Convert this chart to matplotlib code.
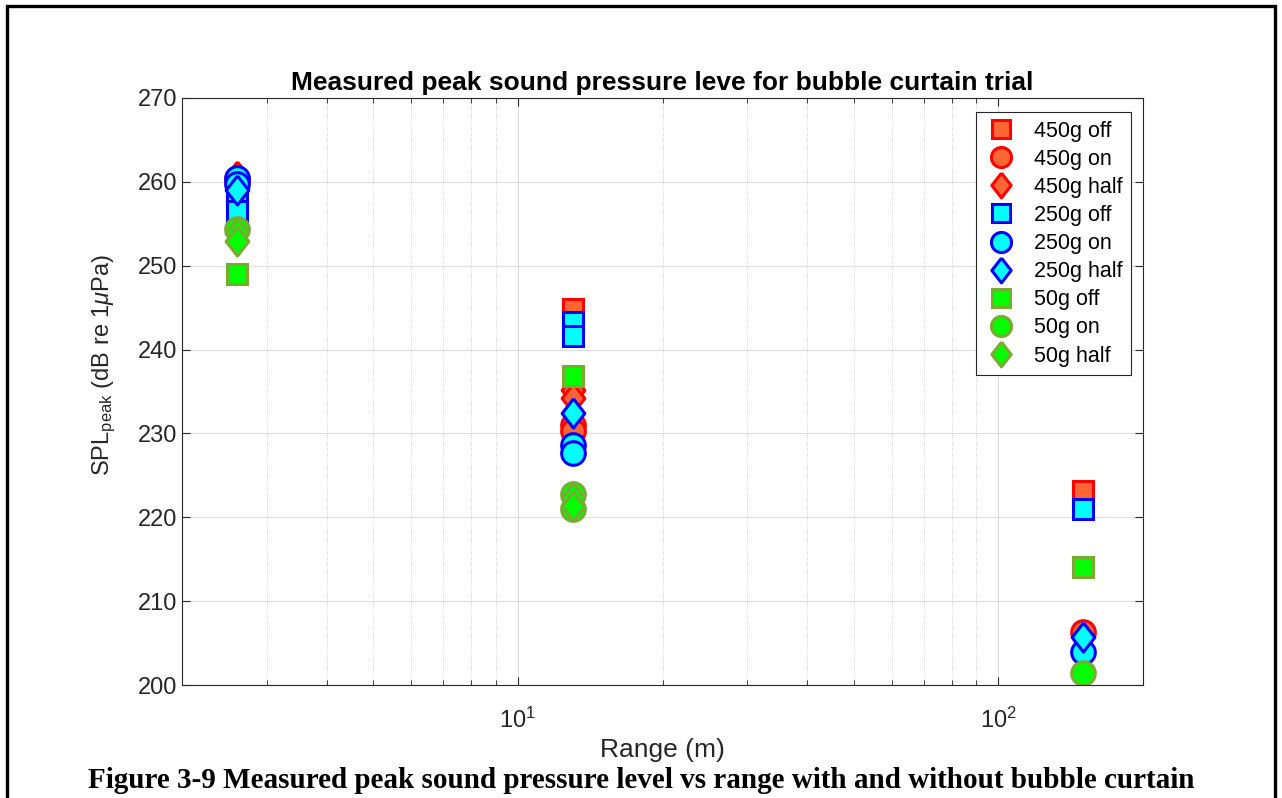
import matplotlib
matplotlib.use("Agg")
import matplotlib.pyplot as plt
from matplotlib.patches import Rectangle
from matplotlib.ticker import LogLocator, NullFormatter

# Peak SPL measured at three ranges, per charge size and bubble curtain state
r_450_off = [2.6, 13, 150]
spl_450_off = [258.0, 244.8, 223.1]
r_450_on = [2.6, 13, 13, 150]
spl_450_on = [260.2, 231.0, 230.3, 206.3]
r_450_half = [2.6, 13, 13]
spl_450_half = [260.7, 235.2, 234.2]

r_250_off = [2.6, 2.6, 13, 13, 150]
spl_250_off = [257.5, 256.5, 243.3, 241.6, 221.0]
r_250_on = [2.6, 2.6, 13, 13, 150]
spl_250_on = [260.5, 259.8, 228.6, 227.7, 203.9]
r_250_half = [2.6, 13, 150]
spl_250_half = [259.0, 232.4, 205.7]

r_50_off = [2.6, 13, 150]
spl_50_off = [249.0, 236.9, 214.1]
r_50_on = [2.6, 13, 13, 150]
spl_50_on = [254.4, 222.8, 221.0, 201.4]
r_50_half = [2.6, 2.6, 13, 13]
spl_50_half = [253.9, 253.0, 222.3, 221.3]

plt.rcParams['font.family'] = ['Liberation Sans', 'DejaVu Sans']
plt.rcParams['mathtext.fontset'] = 'custom'
plt.rcParams['mathtext.rm'] = 'Liberation Sans'
plt.rcParams['mathtext.it'] = 'Liberation Sans:italic'

# taller-than-wide diamond like MATLAB's 'd'
diamond = [(0, 1), (0.78, 0), (0, -1), (-0.78, 0), (0, 1)]

red_face, red_edge = '#FF6633', '#FF0000'
cyan_face, blue_edge = '#00FFFF', '#0000FF'
green_face, olive_edge = '#00FF00', '#77AC30'

series = [
    (r_450_off, spl_450_off, 's', 14.5, red_face, red_edge, '450g off'),
    (r_450_on, spl_450_on, 'o', 17, red_face, red_edge, '450g on'),
    (r_450_half, spl_450_half, diamond, 21, red_face, red_edge, '450g half'),
    (r_250_off, spl_250_off, 's', 14.5, cyan_face, blue_edge, '250g off'),
    (r_250_on, spl_250_on, 'o', 17, cyan_face, blue_edge, '250g on'),
    (r_250_half, spl_250_half, diamond, 21, cyan_face, blue_edge, '250g half'),
    (r_50_off, spl_50_off, 's', 14.5, green_face, olive_edge, '50g off'),
    (r_50_on, spl_50_on, 'o', 17, green_face, olive_edge, '50g on'),
    (r_50_half, spl_50_half, diamond, 21, green_face, olive_edge, '50g half'),
]

fig = plt.figure(figsize=(12.82, 7.98), dpi=100)
ax = fig.add_axes([0.142, 0.1416, 0.7496, 0.7356])

for x, y, mk, ms, fc, ec, lab in series:
    ax.plot(x, y, linestyle='none', marker=mk, markersize=ms,
            markerfacecolor=fc, markeredgecolor=ec, markeredgewidth=2.2,
            label=lab)

ax.set_xscale('log')
ax.set_xlim(2, 200)
ax.set_ylim(200, 270)
ax.set_yticks(range(200, 271, 10))
ax.xaxis.set_minor_locator(LogLocator(base=10, subs=range(2, 10)))
ax.xaxis.set_minor_formatter(NullFormatter())

axcol = '#262626'
for sp in ax.spines.values():
    sp.set_color(axcol)
    sp.set_linewidth(0.8)
ax.tick_params(which='both', direction='in', top=True, right=True,
               colors=axcol, labelsize=17)
ax.tick_params(which='major', length=6, width=0.8)
ax.tick_params(which='minor', length=3.5, width=0.6)
ax.tick_params(axis='x', which='major', pad=16)
ax.grid(True, which='major', color=axcol, alpha=0.15, linewidth=0.8)
ax.grid(True, which='minor', axis='x', color=axcol, alpha=0.25,
        linewidth=0.6, linestyle=':')
ax.set_axisbelow(True)

ax.set_title('Measured peak sound pressure leve for bubble curtain trial',
             fontsize=19, fontweight='bold', color='black', pad=6)
ax.set_xlabel('Range (m)', fontsize=19, color=axcol, labelpad=4)
ax.set_ylabel(r'SPL$_{\mathrm{peak}}$ (dB re 1$\mu$Pa)', fontsize=17,
              color=axcol)
ax.yaxis.set_label_coords(-0.067, 0.545)

leg = ax.legend(loc='upper right', bbox_to_anchor=(0.9875, 0.976),
                borderaxespad=0, fontsize=15.5, markerscale=0.85,
                labelspacing=0.33, handlelength=1.6, handletextpad=0.7,
                borderpad=0.4, fancybox=False, framealpha=1,
                edgecolor=axcol)
leg.get_frame().set_linewidth(0.8)

fig.text(0.5, 0.013,
         'Figure 3-9 Measured peak sound pressure level vs range with and without bubble curtain',
         ha='center', va='baseline', fontsize=21, fontweight='bold',
         family=['Liberation Serif', 'DejaVu Serif'])

# page frame around the figure
fig.add_artist(Rectangle((7 / 1282, -0.05), 1268 / 1282, 1.05 - 5.5 / 798,
                         transform=fig.transFigure, fill=False,
                         edgecolor='black', linewidth=2.4, clip_on=False))

fig.savefig('out.png', dpi=100)
